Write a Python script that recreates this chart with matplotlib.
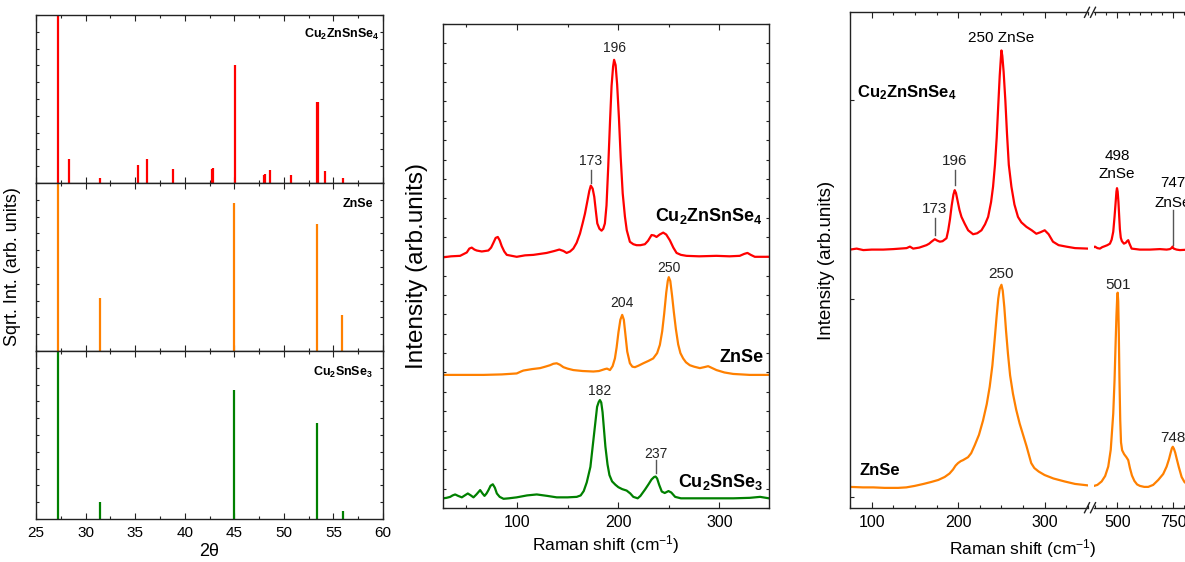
import matplotlib.pyplot as plt
from matplotlib.lines import Line2D
from matplotlib.ticker import MultipleLocator, NullFormatter

plt.rcParams["font.family"] = ["Liberation Sans", "DejaVu Sans"]
plt.rcParams["mathtext.fontset"] = "custom"
plt.rcParams["mathtext.rm"] = "Liberation Sans"
plt.rcParams["mathtext.bf"] = "Liberation Sans:bold"
plt.rcParams["mathtext.it"] = "Liberation Sans:italic"

RED = "#FF0000"
ORANGE = "#FF8000"
GREEN = "#008000"
INK = "#222222"

# --- reference XRD patterns (2theta, sqrt intensity) ---
xrd_czts_pos = [27.2, 28.35, 31.45, 35.25, 36.15, 38.8, 42.75, 42.9, 45.05,
                47.95, 48.1, 48.6, 50.7, 53.33, 53.45, 54.1, 56.0]
xrd_czts_int = [1.0, 0.14, 0.03, 0.11, 0.145, 0.083, 0.085, 0.09, 0.70,
                0.048, 0.055, 0.077, 0.048, 0.483, 0.483, 0.071, 0.032]
xrd_znse_pos = [27.2, 31.45, 45.0, 53.35, 55.9]
xrd_znse_int = [1.0, 0.317, 0.88, 0.757, 0.213]
xrd_ctse_pos = [27.2, 31.45, 45.0, 53.35, 55.95]
xrd_ctse_int = [1.0, 0.10, 0.77, 0.57, 0.046]

# --- Raman spectra, visible excitation (offset traces) ---
ram_czts_x = [27.3, 35, 43.9, 50.5, 53, 55.4, 58, 60.3, 65.3, 71.8, 74.5, 76.8, 79, 81.1, 83,
              85.0, 87.5, 90.0, 99.8, 108, 116.3, 129.4, 137, 141.9, 146, 149.1, 152.5, 155.7,
              159, 162.3, 165, 167.2, 169.5, 171.5, 173, 174.8, 176.4, 178, 179.4, 181.5, 183.6,
              185.3, 186.9, 188.5, 190.2, 192, 193.5, 195, 196, 197.5, 199, 200.8, 202.5, 204.5,
              206.7, 208.5, 211.6, 215, 218.2, 222, 226.4, 229.5, 233.0, 235.5, 237.9, 241, 244.5,
              247.5, 251.1, 254.5, 257.7, 262, 267.5, 280, 297.1, 310, 320.1, 324.5, 327.7, 331,
              335.0, 349]
ram_czts_y = [51.8, 52.0, 52.1, 52.8, 53.6, 53.8, 53.4, 53.2, 53.0, 53.2, 53.8, 54.8, 55.8, 56.0, 55.3,
              54.1, 53.0, 52.3, 51.9, 52.2, 52.3, 52.7, 53.1, 53.4, 53.1, 52.7, 53.0, 53.6,
              54.8, 56.7, 58.9, 60.8, 63.3, 65.5, 66.6, 66.0, 64.3, 61.3, 58.8, 57.7, 57.3,
              57.7, 58.8, 62.5, 70.5, 80.0, 87.2, 91.2, 92.6, 91.5, 87.5, 80.5, 72.5, 65.0,
              60.2, 57.4, 55.0, 54.5, 54.3, 54.3, 54.5, 55.2, 56.4, 56.3, 56.0, 56.5, 56.9,
              56.5, 55.3, 53.8, 52.7, 52.3, 52.1, 52.0, 52.1, 52.0, 52.1, 52.5, 52.7, 52.3,
              51.9, 51.9]
ram_znse_x = [27.3, 45, 67.0, 85, 99.8, 104, 106.4, 115, 122.9, 128, 132.7, 136, 139.3, 142.5, 145.9,
              150, 155.7, 165, 175.5, 181, 186.9, 189, 191.9, 194.5, 196.8, 198.5, 200.3, 202.2,
              204, 205.6, 207.2, 209, 211.6, 214, 216.6, 220, 224.8, 230, 234.6, 238.5, 241.2,
              243.5, 245.5, 247.5, 249, 250, 251.5, 253.3, 255, 257, 259.3, 261.5, 264.2, 267,
              270.8, 275, 280.7, 285, 288.9, 293, 297.1, 305, 313.6, 330, 349]
ram_znse_y = [27.5, 27.5, 27.5, 27.6, 27.8, 28.2, 28.4, 28.7, 28.9, 29.2, 29.5, 29.8, 29.9, 29.6, 29.1,
              28.8, 28.5, 28.3, 28.2, 28.3, 28.7, 28.8, 28.5, 29.3, 30.9, 33.2, 36.3, 38.9,
              39.9, 38.9, 35.8, 32.3, 29.9, 29.2, 29.1, 29.4, 29.9, 30.4, 30.9, 32.0, 33.7,
              36.5, 40.2, 44.5, 46.9, 47.7, 46.9, 43.8, 40.5, 37.0, 33.8, 32.0, 30.9, 30.1,
              29.5, 29.2, 28.9, 29.1, 29.3, 28.9, 28.5, 28.0, 27.7, 27.5, 27.5]
ram_ctse_x = [27.3, 30.5, 34.1, 36.5, 39.0, 42, 45.6, 48.5, 51.5, 54.5, 57.1, 60, 63.7, 66, 68.0,
              70, 71.9, 74, 76.2, 78.2, 80.2, 83, 86.8, 92, 99.8, 110, 119.6, 130, 139.3, 150,
              159.1, 163, 166, 169, 172.6, 175.9, 179.2, 180.8, 182, 183.3, 184.6, 187.4, 189.5,
              191.4, 194, 197.3, 200.2, 204, 208.4, 212, 215.0, 219.3, 222, 226.5, 230, 233,
              235.5, 237, 238.5, 240.5, 243.1, 246, 249.7, 252.5, 256.3, 262, 281, 300, 313.9,
              330, 340.2, 349]
ram_ctse_y = [2.0, 2.1, 2.3, 2.6, 2.8, 2.5, 2.2, 2.6, 3.0, 2.6, 2.2, 2.8, 3.7, 3.0, 2.5,
              3.0, 3.7, 4.6, 4.9, 4.2, 3.0, 2.3, 1.9, 2.0, 2.2, 2.6, 2.8, 2.5, 2.2, 2.2,
              2.3, 2.6, 3.5, 5.3, 8.5, 14.7, 20.9, 21.9, 22.3, 21.8, 19.8, 12.7, 9.0,
              6.8, 5.5, 4.8, 4.3, 3.9, 3.6, 3.0, 2.3, 2.0, 2.5, 3.8, 4.9, 5.9,
              6.4, 6.5, 6.1, 4.8, 3.4, 3.1, 3.5, 3.2, 2.3, 2.0, 2.0, 2.0, 2.0,
              2.1, 2.3, 2.0]

# --- Raman spectra, UV excitation, low (<350) and high (>395) shift ranges ---
uv_czts_lo_x = [75, 82.7, 90.4, 100, 113.4, 125, 140.4, 144.2, 148.0, 155, 163.4, 166.5, 169.2,
                173, 176, 178.8, 182, 186.5, 188.5, 190.5, 192.5, 194.5, 196, 197.5, 199.5,
                201.5, 203.8, 207.6, 211.5, 217.2, 222, 226.9, 231, 234.6, 238, 240.3, 242.5,
                244.5, 246.3, 248, 249.3, 250, 251, 252.5, 254.5, 256.4, 258.5, 261.5, 265,
                269.1, 273, 278.8, 285, 290.3, 295, 300.0, 304.5, 309.5, 316, 324.9, 335, 350]
uv_czts_lo_y = [49.9, 50.1, 49.8, 49.9, 49.9, 50.0, 50.2, 50.5, 50.1, 50.3, 50.8, 51.1, 51.5,
                52.0, 51.7, 51.5, 51.6, 52.2, 53.8, 56.0, 58.8, 61.0, 61.9, 61.3, 59.6,
                57.9, 56.5, 55.1, 53.8, 53.0, 53.2, 53.8, 55.0, 56.5, 59.5, 62.6, 67.0,
                72.5, 79.0, 85.0, 88.5, 90.1, 89.0, 85.8, 80.0, 73.3, 67.0, 62.6, 59.0,
                56.5, 55.4, 54.5, 53.8, 53.1, 53.4, 53.8, 53.0, 51.5, 50.8, 50.5, 50.2, 50.1]
uv_czts_hi_x = [395, 399.2, 410, 421.6, 432, 444.0, 455, 466.4, 474, 481.2, 487, 491.9, 495.5, 498,
                501, 504.5, 508, 511, 515, 520, 529.1, 538, 543, 548.4, 553, 563.6, 600, 645.6,
                690, 720.4, 735, 742, 747, 752, 765, 780, 820, 900]
uv_czts_hi_y = [50.4, 50.5, 50.2, 50.1, 50.4, 50.6, 50.8, 51.1, 51.9, 53.5, 56.5, 59.4, 61.6, 62.3,
                61.6, 59.5, 56.5, 54.0, 52.3, 51.6, 51.1, 51.3, 51.6, 51.8, 51.2, 50.1, 49.9, 49.9,
                50.0, 49.9, 50.0, 50.2, 50.5, 50.1, 49.9, 49.8, 49.9, 49.9]
uv_znse_lo_x = [75, 90, 101.9, 115, 130.6, 140, 149.8, 160, 169.0, 177, 184.4, 190, 194.0, 197,
                199.8, 203, 205.6, 208.5, 211.4, 215, 219.1, 224, 228.7, 233, 236.4, 239.5,
                242.1, 244.3, 246.3, 248, 250, 251.5, 253.3, 255.3, 257.5, 260, 263.3, 267,
                271.0, 275, 279, 282, 284.4, 288, 293, 299.8, 310, 322.9, 335, 350]
uv_znse_lo_y = [2.0, 1.9, 1.9, 1.8, 1.8, 1.9, 2.2, 2.6, 3.0, 3.4, 4.0, 4.7, 5.5, 6.3,
                6.8, 7.2, 7.4, 7.7, 8.0, 8.8, 10.4, 12.5, 15.4, 18.7, 22.2, 26.5,
                31.6, 36.2, 40.0, 42.0, 42.8, 41.6, 38.3, 33.5, 28.9, 24.5, 20.8, 17.6,
                14.8, 12.5, 10.2, 8.3, 6.8, 5.8, 5.1, 4.4, 3.7, 3.1, 2.6, 2.3]
uv_znse_hi_x = [395, 410, 429.2, 445, 458.8, 470, 481.2, 487, 491.5, 495.5, 498.5, 501, 503.5,
                506, 509, 512.5, 516, 521, 530, 540, 548.4, 556, 565, 576, 588, 600.8, 620,
                638.0, 660, 682.8, 705, 720.4, 731, 739, 744, 748, 753, 759, 766, 775, 787.6,
                800, 815, 840, 900]
uv_znse_hi_y = [2.2, 2.4, 3.1, 4.2, 6.1, 9.5, 16.8, 23.5, 30.5, 36.5, 39.8, 41.2, 39.5,
                33.5, 24.0, 15.5, 11.0, 9.4, 8.6, 8.0, 7.4, 5.8, 4.3, 3.2, 2.5, 2.2, 2.0,
                2.0, 2.4, 3.4, 4.6, 6.1, 7.6, 9.0, 9.8, 10.1, 9.7, 8.9, 7.6, 6.0, 4.0,
                3.0, 2.4, 2.1, 2.0]

# peak labels: (position, baseline of label, optional marker line from, to)
vis_czts_peaks = [(173, 70.9, 69.8, 67.1), (196, 94.2, None, None)]
vis_znse_peaks = [(204, 41.6, None, None), (250, 48.8, None, None)]
vis_ctse_peaks = [(182, 23.3, None, None), (237, 10.3, 9.9, 7.2)]
uv_czts_peaks_lo = [(173, 57.2, 56.2, 52.8), (196, 67.0, 65.9, 62.9)]
uv_znse_peaks_lo = [(250, 44.1, None, None)]
uv_znse_peaks_hi = [(501, 41.9, None, None), (748, 11.1, None, None)]

W, H = 1185, 562
fig = plt.figure(figsize=(W / 100, H / 100), dpi=100)


def box(x0, y0, x1, y1):
    return [x0 / W, 1 - y1 / H, (x1 - x0) / W, (y1 - y0) / H]


def style_axis(ax, size=11):
    for s in ax.spines.values():
        s.set_color(INK)
        s.set_linewidth(1.0)
    ax.tick_params(which="both", direction="in", top=True, right=True,
                   color=INK, width=0.8, labelsize=size, pad=5)
    ax.tick_params(which="major", length=4)
    ax.tick_params(which="minor", length=2.5)


def peak_labels(ax, peaks, size, color=INK):
    for pos, base, l0, l1 in peaks:
        ax.text(pos, base, str(pos), ha="center", va="baseline", fontsize=size, color=color)
        if l0 is not None:
            ax.plot([pos, pos], [l0, l1], color="#555555", lw=1.0)


# ---------------- XRD stick patterns ----------------
xrd_rows = [
    (xrd_czts_pos, xrd_czts_int, RED, r"Cu$_\mathbf{2}$ZnSnSe$_\mathbf{4}$", 0.991, 0.861),
    (xrd_znse_pos, xrd_znse_int, ORANGE, "ZnSe", 0.971, 0.859),
    (xrd_ctse_pos, xrd_ctse_int, GREEN, r"Cu$_\mathbf{2}$SnSe$_\mathbf{3}$", 0.971, 0.853),
]
panel_edges = [(15, 183), (183, 351), (351, 519)]
for i, ((pos, inten, col, name, tx, ty), (y0, y1)) in enumerate(zip(xrd_rows, panel_edges)):
    ax = fig.add_axes(box(36, y0, 383, y1))
    ax.vlines(pos, 0, inten, color=col, lw=1.6)
    ax.set_xlim(25, 60)
    ax.set_ylim(0, 1.0)
    ax.xaxis.set_major_locator(MultipleLocator(5))
    ax.xaxis.set_minor_locator(MultipleLocator(2.5))
    ax.yaxis.set_major_locator(MultipleLocator(0.1))
    ax.yaxis.set_major_formatter(NullFormatter())
    style_axis(ax)
    ax.tick_params(axis="y", which="major", length=2.5)
    ax.text(tx, ty, name, transform=ax.transAxes, ha="right", va="baseline",
            fontsize=9, fontweight="bold")
    if i < 2:
        ax.xaxis.set_major_formatter(NullFormatter())
    else:
        ax.set_xlabel("2θ", fontsize=13, labelpad=2)
    if i == 1:
        ax.set_ylabel("Sqrt. Int. (arb. units)", fontsize=13, labelpad=6)

# ---------------- visible Raman ----------------
axm = fig.add_axes(box(443, 24, 769, 508))
axm.plot(ram_czts_x, ram_czts_y, color=RED, lw=1.6)
axm.plot(ram_znse_x, ram_znse_y, color=ORANGE, lw=1.6)
axm.plot(ram_ctse_x, ram_ctse_y, color=GREEN, lw=1.6)
axm.set_xlim(27, 349)
axm.set_ylim(0, 100)
axm.xaxis.set_major_locator(MultipleLocator(100))
axm.xaxis.set_minor_locator(MultipleLocator(50))
axm.yaxis.set_major_locator(MultipleLocator(4))
axm.yaxis.set_major_formatter(NullFormatter())
style_axis(axm, 11.5)
axm.tick_params(axis="y", length=2.5)
axm.set_xlabel("Raman shift (cm$^{-1}$)", fontsize=12.5, labelpad=2)
axm.set_ylabel("Intensity (arb.units)", fontsize=17.5, labelpad=6)
peak_labels(axm, vis_czts_peaks, 10)
peak_labels(axm, vis_znse_peaks, 10)
peak_labels(axm, vis_ctse_peaks, 10)
axm.text(343.1, 59.2, r"Cu$_\mathbf{2}$ZnSnSe$_\mathbf{4}$", ha="right", va="baseline",
         fontsize=13, fontweight="bold")
axm.text(343.4, 30.2, "ZnSe", ha="right", va="baseline", fontsize=13, fontweight="bold")
axm.text(343.4, 4.3, r"Cu$_\mathbf{2}$SnSe$_\mathbf{3}$", ha="right", va="baseline",
         fontsize=13, fontweight="bold")

# ---------------- UV Raman with broken shift axis ----------------
ax_lo = fig.add_axes(box(850, 12.3, 1088, 507.7))
ax_hi = fig.add_axes(box(1094, 12.3, 1094 + (900 - 395) * 0.2232, 507.7), sharey=ax_lo)
ax_lo.plot(uv_czts_lo_x, uv_czts_lo_y, color=RED, lw=1.6)
ax_lo.plot(uv_znse_lo_x, uv_znse_lo_y, color=ORANGE, lw=1.6)
ax_hi.plot(uv_czts_hi_x, uv_czts_hi_y, color=RED, lw=1.6)
ax_hi.plot(uv_znse_hi_x, uv_znse_hi_y, color=ORANGE, lw=1.6)
ax_lo.set_xlim(75, 350)
ax_hi.set_xlim(395, 900)
ax_lo.set_ylim(-2.2, 97.8)
for ax in (ax_lo, ax_hi):
    style_axis(ax, 11.5)
    ax.yaxis.set_major_locator(MultipleLocator(40))
    ax.yaxis.set_major_formatter(NullFormatter())
ax_lo.spines["right"].set_visible(False)
ax_hi.spines["left"].set_visible(False)
ax_lo.tick_params(axis="y", right=False, length=3)
ax_hi.tick_params(axis="y", left=False, right=False, labelleft=False)
ax_lo.xaxis.set_major_locator(MultipleLocator(100))
ax_lo.xaxis.set_minor_locator(MultipleLocator(25))
ax_hi.xaxis.set_major_locator(MultipleLocator(250))
ax_hi.xaxis.set_minor_locator(MultipleLocator(50))
ax_lo.set_ylabel("Intensity (arb.units)", fontsize=13.5, labelpad=6)
fig.text(1023 / W, 1 - 549 / H, "Raman shift (cm$^{-1}$)", ha="center", va="center",
         fontsize=12.5)

peak_labels(ax_lo, uv_czts_peaks_lo, 11)
peak_labels(ax_lo, uv_znse_peaks_lo, 11)
peak_labels(ax_hi, uv_znse_peaks_hi, 11)
ax_lo.text(250, 91.8, "250 ZnSe", ha="center", va="baseline", fontsize=11)
ax_hi.text(498, 67.9, "498", ha="center", va="baseline", fontsize=11)
ax_hi.text(498, 64.3, "ZnSe", ha="center", va="baseline", fontsize=11)
ax_hi.text(747, 62.5, "747", ha="center", va="baseline", fontsize=11)
ax_hi.text(747, 58.5, "ZnSe", ha="center", va="baseline", fontsize=11)
ax_hi.plot([747, 747], [57.9, 50.8], color="#555555", lw=1.0)
ax_lo.text(83.4, 80.7, r"Cu$_\mathbf{2}$ZnSnSe$_\mathbf{4}$", ha="left", va="baseline",
           fontsize=12, fontweight="bold")
ax_lo.text(86.5, 4.5, "ZnSe", ha="left", va="baseline", fontsize=12, fontweight="bold")

# axis-break marks on the top and bottom spines
for ys in (12.3, 507.7):
    for xs in (1087, 1093):
        fig.add_artist(Line2D([(xs - 2.5) / W, (xs + 2.5) / W],
                              [1 - (ys + 5) / H, 1 - (ys - 5) / H],
                              transform=fig.transFigure, color=INK, lw=1.0))

fig.savefig("out.png", dpi=100)
